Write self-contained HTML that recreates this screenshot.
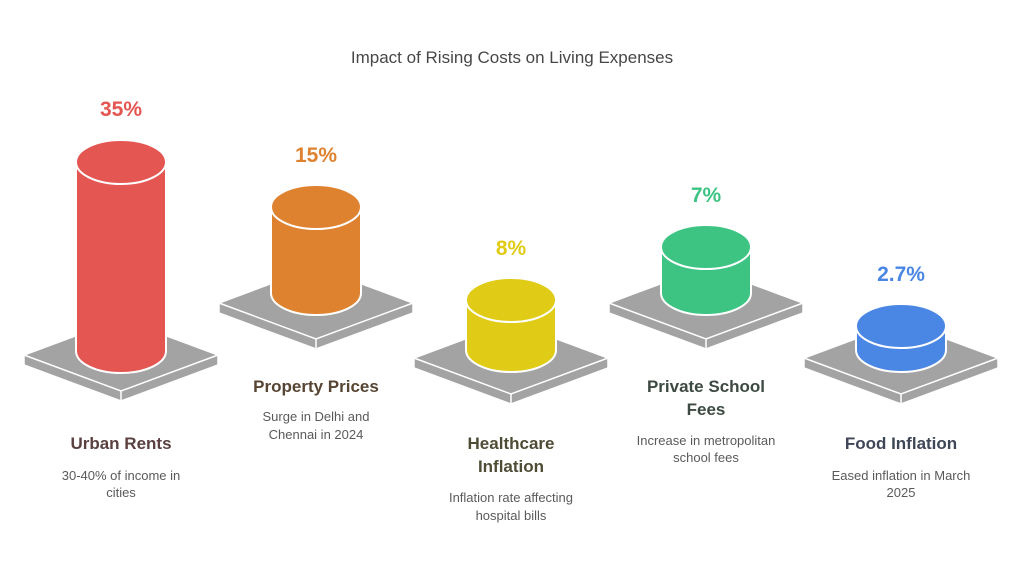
<!DOCTYPE html>
<html><head><meta charset="utf-8"><style>
html,body{margin:0;padding:0;background:#fff;}
svg{display:block;font-family:"Liberation Sans",Arial,sans-serif;}
</style></head><body>
<svg width="1024" height="571" viewBox="0 0 1024 571" xmlns="http://www.w3.org/2000/svg">
<rect width="1024" height="571" fill="#fff"/>
<text x="512" y="63" text-anchor="middle" font-size="17" fill="#474747">Impact of Rising Costs on Living Expenses</text>
<defs>
<g id="plat">
<path d="M-97,0 L0,-36 L97,0 L97,10 L0,46 L-97,10 Z" fill="#a3a3a3" stroke="#fff" stroke-width="1.5"/>
<path d="M-97,0 L0,36 L97,0 M0,36 L0,46" fill="none" stroke="#fff" stroke-width="1.5"/>
</g>
</defs>
<!-- col1 -->
<use href="#plat" x="121" y="355"/>
<path d="M76,162 L76,351 A45,22 0 0 0 166,351 L166,162 Z" fill="#e45652" stroke="#fff" stroke-width="2"/>
<ellipse cx="121" cy="162" rx="45" ry="22" fill="#e45652" stroke="#fff" stroke-width="2"/>
<!-- col2 -->
<use href="#plat" x="316" y="303"/>
<path d="M271,207 L271,293 A45,22 0 0 0 361,293 L361,207 Z" fill="#de8230" stroke="#fff" stroke-width="2"/>
<ellipse cx="316" cy="207" rx="45" ry="22" fill="#de8230" stroke="#fff" stroke-width="2"/>
<!-- col3 -->
<use href="#plat" x="511" y="358"/>
<path d="M466,300 L466,350 A45,22 0 0 0 556,350 L556,300 Z" fill="#e0cb16" stroke="#fff" stroke-width="2"/>
<ellipse cx="511" cy="300" rx="45" ry="22" fill="#e0cb16" stroke="#fff" stroke-width="2"/>
<!-- col4 -->
<use href="#plat" x="706" y="303"/>
<path d="M661,247 L661,293 A45,22 0 0 0 751,293 L751,247 Z" fill="#3dc483" stroke="#fff" stroke-width="2"/>
<ellipse cx="706" cy="247" rx="45" ry="22" fill="#3dc483" stroke="#fff" stroke-width="2"/>
<!-- col5 -->
<use href="#plat" x="901" y="358"/>
<path d="M856,326 L856,350 A45,22 0 0 0 946,350 L946,326 Z" fill="#4a86e4" stroke="#fff" stroke-width="2"/>
<ellipse cx="901" cy="326" rx="45" ry="22" fill="#4a86e4" stroke="#fff" stroke-width="2"/>

<g font-weight="bold" font-size="21" text-anchor="middle">
<text x="121" y="116" fill="#e45652">35%</text>
<text x="316" y="162" fill="#de8230">15%</text>
<text x="511" y="255" fill="#e0cb16">8%</text>
<text x="706" y="202" fill="#3dc483">7%</text>
<text x="901" y="281" fill="#4a86e4">2.7%</text>
</g>
<g font-weight="bold" font-size="17" text-anchor="middle">
<text x="121" y="449" fill="#5a4040">Urban Rents</text>
<text x="316" y="392" fill="#574533">Property Prices</text>
<text x="511" y="449" fill="#4f4c36">Healthcare</text>
<text x="511" y="472" fill="#4f4c36">Inflation</text>
<text x="706" y="392" fill="#3d4a42">Private School</text>
<text x="706" y="415" fill="#3d4a42">Fees</text>
<text x="901" y="449" fill="#3f4657">Food Inflation</text>
</g>
<g font-size="13" text-anchor="middle" fill="#5a5a5a">
<text x="121" y="480">30-40% of income in</text>
<text x="121" y="497">cities</text>
<text x="316" y="421">Surge in Delhi and</text>
<text x="316" y="439">Chennai in 2024</text>
<text x="511" y="502">Inflation rate affecting</text>
<text x="511" y="520">hospital bills</text>
<text x="706" y="445">Increase in metropolitan</text>
<text x="706" y="462">school fees</text>
<text x="901" y="480">Eased inflation in March</text>
<text x="901" y="497">2025</text>
</g>
</svg>
</body></html>
